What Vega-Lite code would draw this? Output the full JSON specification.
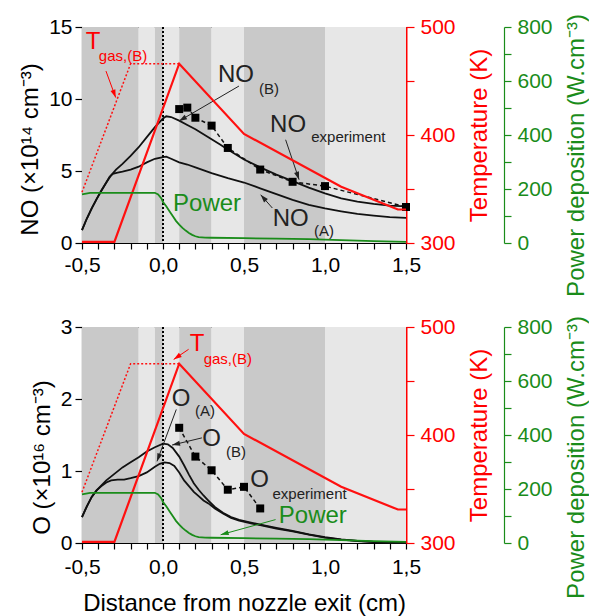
{
  "$schema": "https://vega.github.io/schema/vega-lite/v6.json",
  "padding": {"top": 13, "left": 18, "right": 2, "bottom": 2},
  "spacing": 18,
  "datasets": {
    "bands": [
      {"x": -0.5, "xe": -0.15, "shade": "dark"},
      {"x": -0.15, "xe": -0.05, "shade": "light"},
      {"x": -0.05, "xe": 0, "shade": "dark"},
      {"x": 0, "xe": 0.1, "shade": "light"},
      {"x": 0.1, "xe": 0.3, "shade": "dark"},
      {"x": 0.3, "xe": 0.5, "shade": "light"},
      {"x": 0.5, "xe": 1.0, "shade": "dark"},
      {"x": 1.0, "xe": 1.5, "shade": "light"}
    ],
    "zero": [{"x": 0}],
    "temp": [
      {"x": -0.5, "y": 301}, {"x": -0.3, "y": 301}, {"x": 0.1, "y": 466}, {"x": 0.5, "y": 401},
      {"x": 1.1, "y": 352}, {"x": 1.45, "y": 331}, {"x": 1.5, "y": 331}
    ],
    "tgas": [{"x": -0.5, "y": 347}, {"x": -0.2, "y": 466}, {"x": 0.1, "y": 466}],
    "power": [
      {"x": -0.5, "y": 180}, {"x": -0.45, "y": 186}, {"x": -0.05, "y": 186}, {"x": -0.03, "y": 180},
      {"x": -0.01, "y": 165}, {"x": 0.0, "y": 152}, {"x": 0.02, "y": 136}, {"x": 0.04, "y": 118},
      {"x": 0.06, "y": 100}, {"x": 0.08, "y": 82}, {"x": 0.1, "y": 68}, {"x": 0.12, "y": 56},
      {"x": 0.14, "y": 46}, {"x": 0.16, "y": 37}, {"x": 0.18, "y": 30}, {"x": 0.2, "y": 25},
      {"x": 0.22, "y": 22}, {"x": 0.26, "y": 20}, {"x": 0.3, "y": 19.5}, {"x": 0.5, "y": 18},
      {"x": 0.7, "y": 16}, {"x": 0.9, "y": 14}, {"x": 1.1, "y": 11}, {"x": 1.3, "y": 7}, {"x": 1.5, "y": 4}
    ],
    "no_top": [
      {"series": "NO(B)", "x": -0.5, "y": 0.9}, {"series": "NO(B)", "x": -0.47, "y": 1.7},
      {"series": "NO(B)", "x": -0.44, "y": 2.4}, {"series": "NO(B)", "x": -0.41, "y": 3.05},
      {"series": "NO(B)", "x": -0.38, "y": 3.65}, {"series": "NO(B)", "x": -0.35, "y": 4.2},
      {"series": "NO(B)", "x": -0.32, "y": 4.7}, {"series": "NO(B)", "x": -0.29, "y": 5.1},
      {"series": "NO(B)", "x": -0.25, "y": 5.5}, {"series": "NO(B)", "x": -0.2, "y": 6.05},
      {"series": "NO(B)", "x": -0.15, "y": 6.65}, {"series": "NO(B)", "x": -0.1, "y": 7.35},
      {"series": "NO(B)", "x": -0.05, "y": 8.05}, {"series": "NO(B)", "x": 0, "y": 8.65},
      {"series": "NO(B)", "x": 0.02, "y": 8.8}, {"series": "NO(B)", "x": 0.05, "y": 8.75},
      {"series": "NO(B)", "x": 0.1, "y": 8.5}, {"series": "NO(B)", "x": 0.15, "y": 8.2},
      {"series": "NO(B)", "x": 0.2, "y": 7.9}, {"series": "NO(B)", "x": 0.25, "y": 7.55},
      {"series": "NO(B)", "x": 0.3, "y": 7.2}, {"series": "NO(B)", "x": 0.35, "y": 6.85},
      {"series": "NO(B)", "x": 0.4, "y": 6.5}, {"series": "NO(B)", "x": 0.45, "y": 6.15},
      {"series": "NO(B)", "x": 0.5, "y": 5.8}, {"series": "NO(B)", "x": 0.6, "y": 5.25},
      {"series": "NO(B)", "x": 0.7, "y": 4.75}, {"series": "NO(B)", "x": 0.8, "y": 4.3},
      {"series": "NO(B)", "x": 0.9, "y": 3.85}, {"series": "NO(B)", "x": 1.0, "y": 3.45},
      {"series": "NO(B)", "x": 1.1, "y": 3.1}, {"series": "NO(B)", "x": 1.2, "y": 2.88},
      {"series": "NO(B)", "x": 1.3, "y": 2.72}, {"series": "NO(B)", "x": 1.4, "y": 2.6},
      {"series": "NO(B)", "x": 1.5, "y": 2.55},
      {"series": "NO(A)", "x": -0.5, "y": 0.9}, {"series": "NO(A)", "x": -0.47, "y": 1.7},
      {"series": "NO(A)", "x": -0.44, "y": 2.4}, {"series": "NO(A)", "x": -0.41, "y": 3.05},
      {"series": "NO(A)", "x": -0.38, "y": 3.65}, {"series": "NO(A)", "x": -0.35, "y": 4.2},
      {"series": "NO(A)", "x": -0.33, "y": 4.6}, {"series": "NO(A)", "x": -0.31, "y": 4.8},
      {"series": "NO(A)", "x": -0.28, "y": 4.88}, {"series": "NO(A)", "x": -0.25, "y": 4.95},
      {"series": "NO(A)", "x": -0.2, "y": 5.1}, {"series": "NO(A)", "x": -0.15, "y": 5.3},
      {"series": "NO(A)", "x": -0.1, "y": 5.6}, {"series": "NO(A)", "x": -0.05, "y": 5.85},
      {"series": "NO(A)", "x": 0, "y": 5.97}, {"series": "NO(A)", "x": 0.02, "y": 6.0},
      {"series": "NO(A)", "x": 0.05, "y": 5.85}, {"series": "NO(A)", "x": 0.1, "y": 5.6},
      {"series": "NO(A)", "x": 0.15, "y": 5.45}, {"series": "NO(A)", "x": 0.2, "y": 5.25},
      {"series": "NO(A)", "x": 0.3, "y": 4.85}, {"series": "NO(A)", "x": 0.4, "y": 4.5},
      {"series": "NO(A)", "x": 0.5, "y": 4.2}, {"series": "NO(A)", "x": 0.6, "y": 3.8},
      {"series": "NO(A)", "x": 0.7, "y": 3.4}, {"series": "NO(A)", "x": 0.8, "y": 3.0},
      {"series": "NO(A)", "x": 0.9, "y": 2.65}, {"series": "NO(A)", "x": 1.0, "y": 2.4},
      {"series": "NO(A)", "x": 1.1, "y": 2.2}, {"series": "NO(A)", "x": 1.2, "y": 2.02},
      {"series": "NO(A)", "x": 1.3, "y": 1.9}, {"series": "NO(A)", "x": 1.4, "y": 1.8},
      {"series": "NO(A)", "x": 1.5, "y": 1.74}
    ],
    "noexp": [
      {"x": 0.1, "y": 9.3}, {"x": 0.15, "y": 9.4}, {"x": 0.2, "y": 8.7}, {"x": 0.3, "y": 8.15},
      {"x": 0.4, "y": 6.6}, {"x": 0.6, "y": 5.1}, {"x": 0.8, "y": 4.25}, {"x": 1.0, "y": 3.95},
      {"x": 1.5, "y": 2.5}
    ],
    "o_bot": [
      {"series": "O(B)", "x": -0.5, "y": 0.36}, {"series": "O(B)", "x": -0.47, "y": 0.51},
      {"series": "O(B)", "x": -0.44, "y": 0.64}, {"series": "O(B)", "x": -0.41, "y": 0.73},
      {"series": "O(B)", "x": -0.38, "y": 0.8}, {"series": "O(B)", "x": -0.35, "y": 0.87},
      {"series": "O(B)", "x": -0.3, "y": 0.96}, {"series": "O(B)", "x": -0.25, "y": 1.05},
      {"series": "O(B)", "x": -0.2, "y": 1.12}, {"series": "O(B)", "x": -0.15, "y": 1.19},
      {"series": "O(B)", "x": -0.1, "y": 1.27}, {"series": "O(B)", "x": -0.05, "y": 1.33},
      {"series": "O(B)", "x": 0, "y": 1.38}, {"series": "O(B)", "x": 0.03, "y": 1.37},
      {"series": "O(B)", "x": 0.06, "y": 1.32}, {"series": "O(B)", "x": 0.1, "y": 1.2},
      {"series": "O(B)", "x": 0.13, "y": 1.08}, {"series": "O(B)", "x": 0.16, "y": 0.95},
      {"series": "O(B)", "x": 0.19, "y": 0.83}, {"series": "O(B)", "x": 0.22, "y": 0.74},
      {"series": "O(B)", "x": 0.25, "y": 0.66}, {"series": "O(B)", "x": 0.28, "y": 0.59},
      {"series": "O(B)", "x": 0.32, "y": 0.5}, {"series": "O(B)", "x": 0.37, "y": 0.42},
      {"series": "O(B)", "x": 0.42, "y": 0.36}, {"series": "O(B)", "x": 0.47, "y": 0.32},
      {"series": "O(B)", "x": 0.55, "y": 0.28}, {"series": "O(B)", "x": 0.6, "y": 0.255},
      {"series": "O(B)", "x": 0.7, "y": 0.21}, {"series": "O(B)", "x": 0.8, "y": 0.17},
      {"series": "O(B)", "x": 0.9, "y": 0.12}, {"series": "O(B)", "x": 1.0, "y": 0.08},
      {"series": "O(B)", "x": 1.1, "y": 0.05}, {"series": "O(B)", "x": 1.2, "y": 0.03},
      {"series": "O(B)", "x": 1.3, "y": 0.015}, {"series": "O(B)", "x": 1.4, "y": 0.006},
      {"series": "O(B)", "x": 1.5, "y": 0.0},
      {"series": "O(A)", "x": -0.5, "y": 0.36}, {"series": "O(A)", "x": -0.47, "y": 0.51},
      {"series": "O(A)", "x": -0.44, "y": 0.64}, {"series": "O(A)", "x": -0.41, "y": 0.73},
      {"series": "O(A)", "x": -0.38, "y": 0.79}, {"series": "O(A)", "x": -0.35, "y": 0.84},
      {"series": "O(A)", "x": -0.32, "y": 0.87}, {"series": "O(A)", "x": -0.28, "y": 0.88},
      {"series": "O(A)", "x": -0.24, "y": 0.88}, {"series": "O(A)", "x": -0.2, "y": 0.9},
      {"series": "O(A)", "x": -0.15, "y": 0.93}, {"series": "O(A)", "x": -0.1, "y": 0.98},
      {"series": "O(A)", "x": -0.05, "y": 1.06}, {"series": "O(A)", "x": -0.02, "y": 1.1},
      {"series": "O(A)", "x": 0.01, "y": 1.12}, {"series": "O(A)", "x": 0.04, "y": 1.11},
      {"series": "O(A)", "x": 0.07, "y": 1.07}, {"series": "O(A)", "x": 0.1, "y": 0.98},
      {"series": "O(A)", "x": 0.13, "y": 0.87}, {"series": "O(A)", "x": 0.16, "y": 0.79},
      {"series": "O(A)", "x": 0.19, "y": 0.71}, {"series": "O(A)", "x": 0.22, "y": 0.65},
      {"series": "O(A)", "x": 0.25, "y": 0.59}, {"series": "O(A)", "x": 0.28, "y": 0.55},
      {"series": "O(A)", "x": 0.32, "y": 0.48}, {"series": "O(A)", "x": 0.37, "y": 0.41},
      {"series": "O(A)", "x": 0.42, "y": 0.35}, {"series": "O(A)", "x": 0.47, "y": 0.31},
      {"series": "O(A)", "x": 0.55, "y": 0.27}, {"series": "O(A)", "x": 0.6, "y": 0.25},
      {"series": "O(A)", "x": 0.7, "y": 0.2}, {"series": "O(A)", "x": 0.8, "y": 0.16},
      {"series": "O(A)", "x": 0.9, "y": 0.115}, {"series": "O(A)", "x": 1.0, "y": 0.075},
      {"series": "O(A)", "x": 1.1, "y": 0.048}, {"series": "O(A)", "x": 1.2, "y": 0.028},
      {"series": "O(A)", "x": 1.3, "y": 0.014}, {"series": "O(A)", "x": 1.4, "y": 0.005},
      {"series": "O(A)", "x": 1.5, "y": 0.0}
    ],
    "oexp": [
      {"x": 0.1, "y": 1.6}, {"x": 0.2, "y": 1.2}, {"x": 0.3, "y": 1.01}, {"x": 0.4, "y": 0.74},
      {"x": 0.5, "y": 0.78}, {"x": 0.6, "y": 0.48}
    ],
    "ann_top": [
      {"x": -0.432, "y": 13.96, "text": "T", "kind": "main", "ref": "temperature"},
      {"x": -0.247, "y": 13.0, "text": "gas,(B)", "kind": "sub", "ref": "temperature"},
      {"x": 0.45, "y": 11.67, "text": "NO", "kind": "main", "ref": "species"},
      {"x": 0.654, "y": 10.7, "text": "(B)", "kind": "sub", "ref": "species"},
      {"x": 0.772, "y": 8.2, "text": "NO", "kind": "main", "ref": "species"},
      {"x": 1.144, "y": 7.36, "text": "experiment", "kind": "sub", "ref": "species"},
      {"x": 0.788, "y": 1.67, "text": "NO", "kind": "main", "ref": "species"},
      {"x": 0.994, "y": 0.83, "text": "(A)", "kind": "sub", "ref": "species"},
      {"x": 0.272, "y": 2.7, "text": "Power", "kind": "main", "ref": "power"}
    ],
    "arr_top": [
      {"x": -0.352, "y": 11.94, "x2": -0.292, "y2": 10.1, "ref": "temperature"},
      {"x": 0.469, "y": 10.9, "x2": 0.099, "y2": 8.47, "ref": "species"},
      {"x": 0.757, "y": 7.17, "x2": 0.84, "y2": 4.4, "ref": "species"},
      {"x": 0.675, "y": 2.43, "x2": 0.603, "y2": 3.35, "ref": "species"}
    ],
    "ann_bot": [
      {"x": 0.21, "y": 2.77, "text": "T", "kind": "main", "ref": "temperature"},
      {"x": 0.40, "y": 2.56, "text": "gas,(B)", "kind": "sub", "ref": "temperature"},
      {"x": 0.111, "y": 2.0, "text": "O", "kind": "main", "ref": "species"},
      {"x": 0.259, "y": 1.83, "text": "(A)", "kind": "sub", "ref": "species"},
      {"x": 0.30, "y": 1.45, "text": "O", "kind": "main", "ref": "species"},
      {"x": 0.45, "y": 1.27, "text": "(B)", "kind": "sub", "ref": "species"},
      {"x": 0.596, "y": 0.87, "text": "O", "kind": "main", "ref": "species"},
      {"x": 0.905, "y": 0.68, "text": "experiment", "kind": "sub", "ref": "species"},
      {"x": 0.925, "y": 0.37, "text": "Power", "kind": "main", "ref": "power"}
    ],
    "arr_bot": [
      {"x": 0.158, "y": 2.69, "x2": 0.066, "y2": 2.55, "ref": "temperature"},
      {"x": 0.082, "y": 1.855, "x2": -0.037, "y2": 1.134, "ref": "species"},
      {"x": 0.24, "y": 1.46, "x2": 0.056, "y2": 1.36, "ref": "species"},
      {"x": 0.695, "y": 0.325, "x2": 0.356, "y2": 0.115, "ref": "power"}
    ]
  },
  "vconcat": [
    {
      "width": 324,
      "height": 216,
      "layer": [
        {
          "data": {"name": "bands"},
          "mark": {"type": "rect"},
          "encoding": {
            "x": {
              "field": "x", "type": "quantitative",
              "scale": {"domain": [-0.5, 1.5], "nice": false, "zero": false},
              "axis": {
                "title": null,
                "tickCount": 20,
                "labelExpr": "abs(datum.value*2 - round(datum.value*2)) < 0.001 ? replace(replace(format(datum.value, '.1f'), '.', ','), '\u2212', '-') : ''",
                "tickSize": 6,
                "labelPadding": 5
              }
            },
            "x2": {"field": "xe"},
            "fill": {"field": "shade", "type": "nominal", "scale": {"domain": ["dark", "light"], "range": ["#c9c9c9", "#e7e7e7"]}, "legend": null}
          }
        },
        {
          "layer": [
            {
              "data": {"name": "no_top"},
              "mark": {"type": "line", "color": "#111111", "strokeWidth": 1.8},
              "encoding": {
                "x": {"field": "x", "type": "quantitative"},
                "y": {
                  "field": "y", "type": "quantitative",
                  "scale": {"domain": [0, 15], "nice": false},
                  "axis": {
                    "orient": "left", "title": "NO (×10¹⁴ cm⁻³)",
                    "values": [0, 2.5, 5, 7.5, 10, 12.5, 15],
                    "labelExpr": "datum.value % 5 == 0 ? format(datum.value, 'd') : ''",
                    "tickSize": 7, "titleY": 122
                  }
                },
                "detail": {"field": "series"}
              }
            },
            {
              "data": {"name": "noexp"},
              "mark": {"type": "line", "color": "#111111", "strokeWidth": 1.5, "strokeDash": [4, 3]},
              "encoding": {"x": {"field": "x", "type": "quantitative"}, "y": {"field": "y", "type": "quantitative"}}
            },
            {
              "data": {"name": "noexp"},
              "mark": {"type": "square", "filled": true, "color": "#000000", "size": 64, "opacity": 1},
              "encoding": {"x": {"field": "x", "type": "quantitative"}, "y": {"field": "y", "type": "quantitative"}}
            },
            {
              "data": {"name": "zero"},
              "mark": {"type": "rule", "color": "#000000", "strokeWidth": 2, "strokeDash": [2, 2]},
              "encoding": {"x": {"field": "x", "type": "quantitative"}}
            },
            {
              "data": {"name": "arr_top"},
              "mark": {"type": "rule", "strokeWidth": 1},
              "encoding": {
                "x": {"field": "x", "type": "quantitative"}, "y": {"field": "y", "type": "quantitative"},
                "x2": {"field": "x2"}, "y2": {"field": "y2"},
                "color": {"field": "ref", "type": "nominal", "scale": {"domain": ["species", "temperature", "power"], "range": ["#222222", "#ff0000", "#1a8c1a"]}, "legend": null}
              }
            },
            {
              "data": {"name": "arr_top"},
              "mark": {"type": "point", "shape": "M0,0L-0.32,1L0.32,1Z", "filled": true, "opacity": 1, "size": 256,
                       "angle": {"expr": "atan2((datum.x2-datum.x)*162, (datum.y2-datum.y)*14.4)*180/PI"}},
              "encoding": {
                "x": {"field": "x2", "type": "quantitative"}, "y": {"field": "y2", "type": "quantitative"},
                "color": {"field": "ref", "type": "nominal", "legend": null}
              }
            },
            {
              "data": {"name": "ann_top"},
              "transform": [{"filter": "datum.kind == 'main'"}],
              "mark": {"type": "text", "fontSize": 24, "align": "center", "baseline": "middle"},
              "encoding": {
                "x": {"field": "x", "type": "quantitative"}, "y": {"field": "y", "type": "quantitative"},
                "text": {"field": "text"},
                "color": {"field": "ref", "type": "nominal", "legend": null}
              }
            },
            {
              "data": {"name": "ann_top"},
              "transform": [{"filter": "datum.kind == 'sub'"}],
              "mark": {"type": "text", "fontSize": 15, "align": "center", "baseline": "middle"},
              "encoding": {
                "x": {"field": "x", "type": "quantitative"}, "y": {"field": "y", "type": "quantitative"},
                "text": {"field": "text"},
                "color": {"field": "ref", "type": "nominal", "legend": null}
              }
            }
          ]
        },
        {
          "layer": [
            {
              "data": {"name": "tgas"},
              "mark": {"type": "line", "color": "#ff1010", "strokeWidth": 1.5, "strokeDash": [2, 2]},
              "encoding": {
                "x": {"field": "x", "type": "quantitative"},
                "y": {
                  "field": "y", "type": "quantitative",
                  "scale": {"domain": [300, 500], "nice": false, "zero": false},
                  "axis": {
                    "orient": "right", "title": "Temperature (K)",
                    "values": [300, 350, 400, 450, 500],
                    "labelExpr": "datum.value % 100 == 0 ? datum.label : ''",
                    "domainColor": "#ff0000", "tickColor": "#ff0000", "labelColor": "#ff0000", "titleColor": "#ff0000",
                    "tickSize": 8, "domainWidth": 2, "labelPadding": 6,
                    "titleAngle": 270, "titleBaseline": "top", "titlePadding": 12
                  }
                }
              }
            },
            {
              "data": {"name": "temp"},
              "mark": {"type": "line", "color": "#ff1010", "strokeWidth": 2.2},
              "encoding": {"x": {"field": "x", "type": "quantitative"}, "y": {"field": "y", "type": "quantitative"}}
            }
          ]
        },
        {
          "data": {"name": "power"},
          "mark": {"type": "line", "color": "#1a8c1a", "strokeWidth": 1.8},
          "encoding": {
            "x": {"field": "x", "type": "quantitative"},
            "y": {
              "field": "y", "type": "quantitative",
              "scale": {"domain": [0, 800], "nice": false},
              "axis": {
                "orient": "right", "offset": 98, "title": "Power deposition (W.cm⁻³)",
                "values": [0, 100, 200, 300, 400, 500, 600, 700, 800],
                "labelExpr": "datum.value % 200 == 0 ? datum.label : ''",
                "domainColor": "#1a8c1a", "tickColor": "#1a8c1a", "labelColor": "#1a8c1a", "titleColor": "#1a8c1a",
                "tickSize": 7, "labelPadding": 6,
                "titleAngle": 270, "titleBaseline": "top", "titlePadding": 12, "titleY": 128
              }
            }
          }
        }
      ],
      "resolve": {"scale": {"y": "independent"}}
    },
    {
      "width": 324,
      "height": 216,
      "layer": [
        {
          "data": {"name": "bands"},
          "mark": {"type": "rect"},
          "encoding": {
            "x": {
              "field": "x", "type": "quantitative",
              "scale": {"domain": [-0.5, 1.5], "nice": false, "zero": false},
              "axis": {
                "title": "Distance from nozzle exit (cm)",
                "tickCount": 20,
                "labelExpr": "abs(datum.value*2 - round(datum.value*2)) < 0.001 ? replace(replace(format(datum.value, '.1f'), '.', ','), '\u2212', '-') : ''",
                "tickSize": 6,
                "labelPadding": 7, "titlePadding": 14
              }
            },
            "x2": {"field": "xe"},
            "fill": {"field": "shade", "type": "nominal", "scale": {"domain": ["dark", "light"], "range": ["#c9c9c9", "#e7e7e7"]}, "legend": null}
          }
        },
        {
          "layer": [
            {
              "data": {"name": "o_bot"},
              "mark": {"type": "line", "color": "#111111", "strokeWidth": 1.8},
              "encoding": {
                "x": {"field": "x", "type": "quantitative"},
                "y": {
                  "field": "y", "type": "quantitative",
                  "scale": {"domain": [0, 3], "nice": false},
                  "axis": {
                    "orient": "left", "title": "O (×10¹⁶ cm⁻³)",
                    "values": [0, 0.5, 1, 1.5, 2, 2.5, 3],
                    "labelExpr": "datum.value % 1 == 0 ? format(datum.value, 'd') : ''",
                    "tickSize": 7, "titleY": 130
                  }
                },
                "detail": {"field": "series"}
              }
            },
            {
              "data": {"name": "oexp"},
              "mark": {"type": "line", "color": "#111111", "strokeWidth": 1.5, "strokeDash": [4, 3]},
              "encoding": {"x": {"field": "x", "type": "quantitative"}, "y": {"field": "y", "type": "quantitative"}}
            },
            {
              "data": {"name": "oexp"},
              "mark": {"type": "square", "filled": true, "color": "#000000", "size": 64, "opacity": 1},
              "encoding": {"x": {"field": "x", "type": "quantitative"}, "y": {"field": "y", "type": "quantitative"}}
            },
            {
              "data": {"name": "zero"},
              "mark": {"type": "rule", "color": "#000000", "strokeWidth": 2, "strokeDash": [2, 2]},
              "encoding": {"x": {"field": "x", "type": "quantitative"}}
            },
            {
              "data": {"name": "arr_bot"},
              "mark": {"type": "rule", "strokeWidth": 1},
              "encoding": {
                "x": {"field": "x", "type": "quantitative"}, "y": {"field": "y", "type": "quantitative"},
                "x2": {"field": "x2"}, "y2": {"field": "y2"},
                "color": {"field": "ref", "type": "nominal", "scale": {"domain": ["species", "temperature", "power"], "range": ["#222222", "#ff0000", "#1a8c1a"]}, "legend": null}
              }
            },
            {
              "data": {"name": "arr_bot"},
              "mark": {"type": "point", "shape": "M0,0L-0.32,1L0.32,1Z", "filled": true, "opacity": 1, "size": 256,
                       "angle": {"expr": "atan2((datum.x2-datum.x)*162, (datum.y2-datum.y)*71.67)*180/PI"}},
              "encoding": {
                "x": {"field": "x2", "type": "quantitative"}, "y": {"field": "y2", "type": "quantitative"},
                "color": {"field": "ref", "type": "nominal", "legend": null}
              }
            },
            {
              "data": {"name": "ann_bot"},
              "transform": [{"filter": "datum.kind == 'main'"}],
              "mark": {"type": "text", "fontSize": 24, "align": "center", "baseline": "middle"},
              "encoding": {
                "x": {"field": "x", "type": "quantitative"}, "y": {"field": "y", "type": "quantitative"},
                "text": {"field": "text"},
                "color": {"field": "ref", "type": "nominal", "legend": null}
              }
            },
            {
              "data": {"name": "ann_bot"},
              "transform": [{"filter": "datum.kind == 'sub'"}],
              "mark": {"type": "text", "fontSize": 15, "align": "center", "baseline": "middle"},
              "encoding": {
                "x": {"field": "x", "type": "quantitative"}, "y": {"field": "y", "type": "quantitative"},
                "text": {"field": "text"},
                "color": {"field": "ref", "type": "nominal", "legend": null}
              }
            }
          ]
        },
        {
          "layer": [
            {
              "data": {"name": "tgas"},
              "mark": {"type": "line", "color": "#ff1010", "strokeWidth": 1.5, "strokeDash": [2, 2]},
              "encoding": {
                "x": {"field": "x", "type": "quantitative"},
                "y": {
                  "field": "y", "type": "quantitative",
                  "scale": {"domain": [300, 500], "nice": false, "zero": false},
                  "axis": {
                    "orient": "right", "title": "Temperature (K)",
                    "values": [300, 350, 400, 450, 500],
                    "labelExpr": "datum.value % 100 == 0 ? datum.label : ''",
                    "domainColor": "#ff0000", "tickColor": "#ff0000", "labelColor": "#ff0000", "titleColor": "#ff0000",
                    "tickSize": 8, "domainWidth": 2, "labelPadding": 6,
                    "titleAngle": 270, "titleBaseline": "top", "titlePadding": 12
                  }
                }
              }
            },
            {
              "data": {"name": "temp"},
              "mark": {"type": "line", "color": "#ff1010", "strokeWidth": 2.2},
              "encoding": {"x": {"field": "x", "type": "quantitative"}, "y": {"field": "y", "type": "quantitative"}}
            }
          ]
        },
        {
          "data": {"name": "power"},
          "mark": {"type": "line", "color": "#1a8c1a", "strokeWidth": 1.8},
          "encoding": {
            "x": {"field": "x", "type": "quantitative"},
            "y": {
              "field": "y", "type": "quantitative",
              "scale": {"domain": [0, 800], "nice": false},
              "axis": {
                "orient": "right", "offset": 98, "title": "Power deposition (W.cm⁻³)",
                "values": [0, 100, 200, 300, 400, 500, 600, 700, 800],
                "labelExpr": "datum.value % 200 == 0 ? datum.label : ''",
                "domainColor": "#1a8c1a", "tickColor": "#1a8c1a", "labelColor": "#1a8c1a", "titleColor": "#1a8c1a",
                "tickSize": 7, "labelPadding": 6,
                "titleAngle": 270, "titleBaseline": "top", "titlePadding": 12, "titleY": 130
              }
            }
          }
        }
      ],
      "resolve": {"scale": {"y": "independent"}}
    }
  ],
  "config": {
    "font": "Liberation Sans",
    "view": {"stroke": "#222222", "strokeWidth": 1},
    "axis": {
      "labelFont": "Liberation Sans", "labelFontSize": 21, "labelColor": "#000000",
      "titleFont": "Liberation Sans", "titleFontSize": 24, "titleFontWeight": "normal", "titleColor": "#000000",
      "domainColor": "#000000", "tickColor": "#000000", "grid": false, "tickWidth": 1.2, "domainWidth": 1.2,
      "labelPadding": 3, "titlePadding": 6, "labelOverlap": false, "labelBound": false, "labelFlush": false
    },
    "text": {"font": "Liberation Sans"}
  }
}
